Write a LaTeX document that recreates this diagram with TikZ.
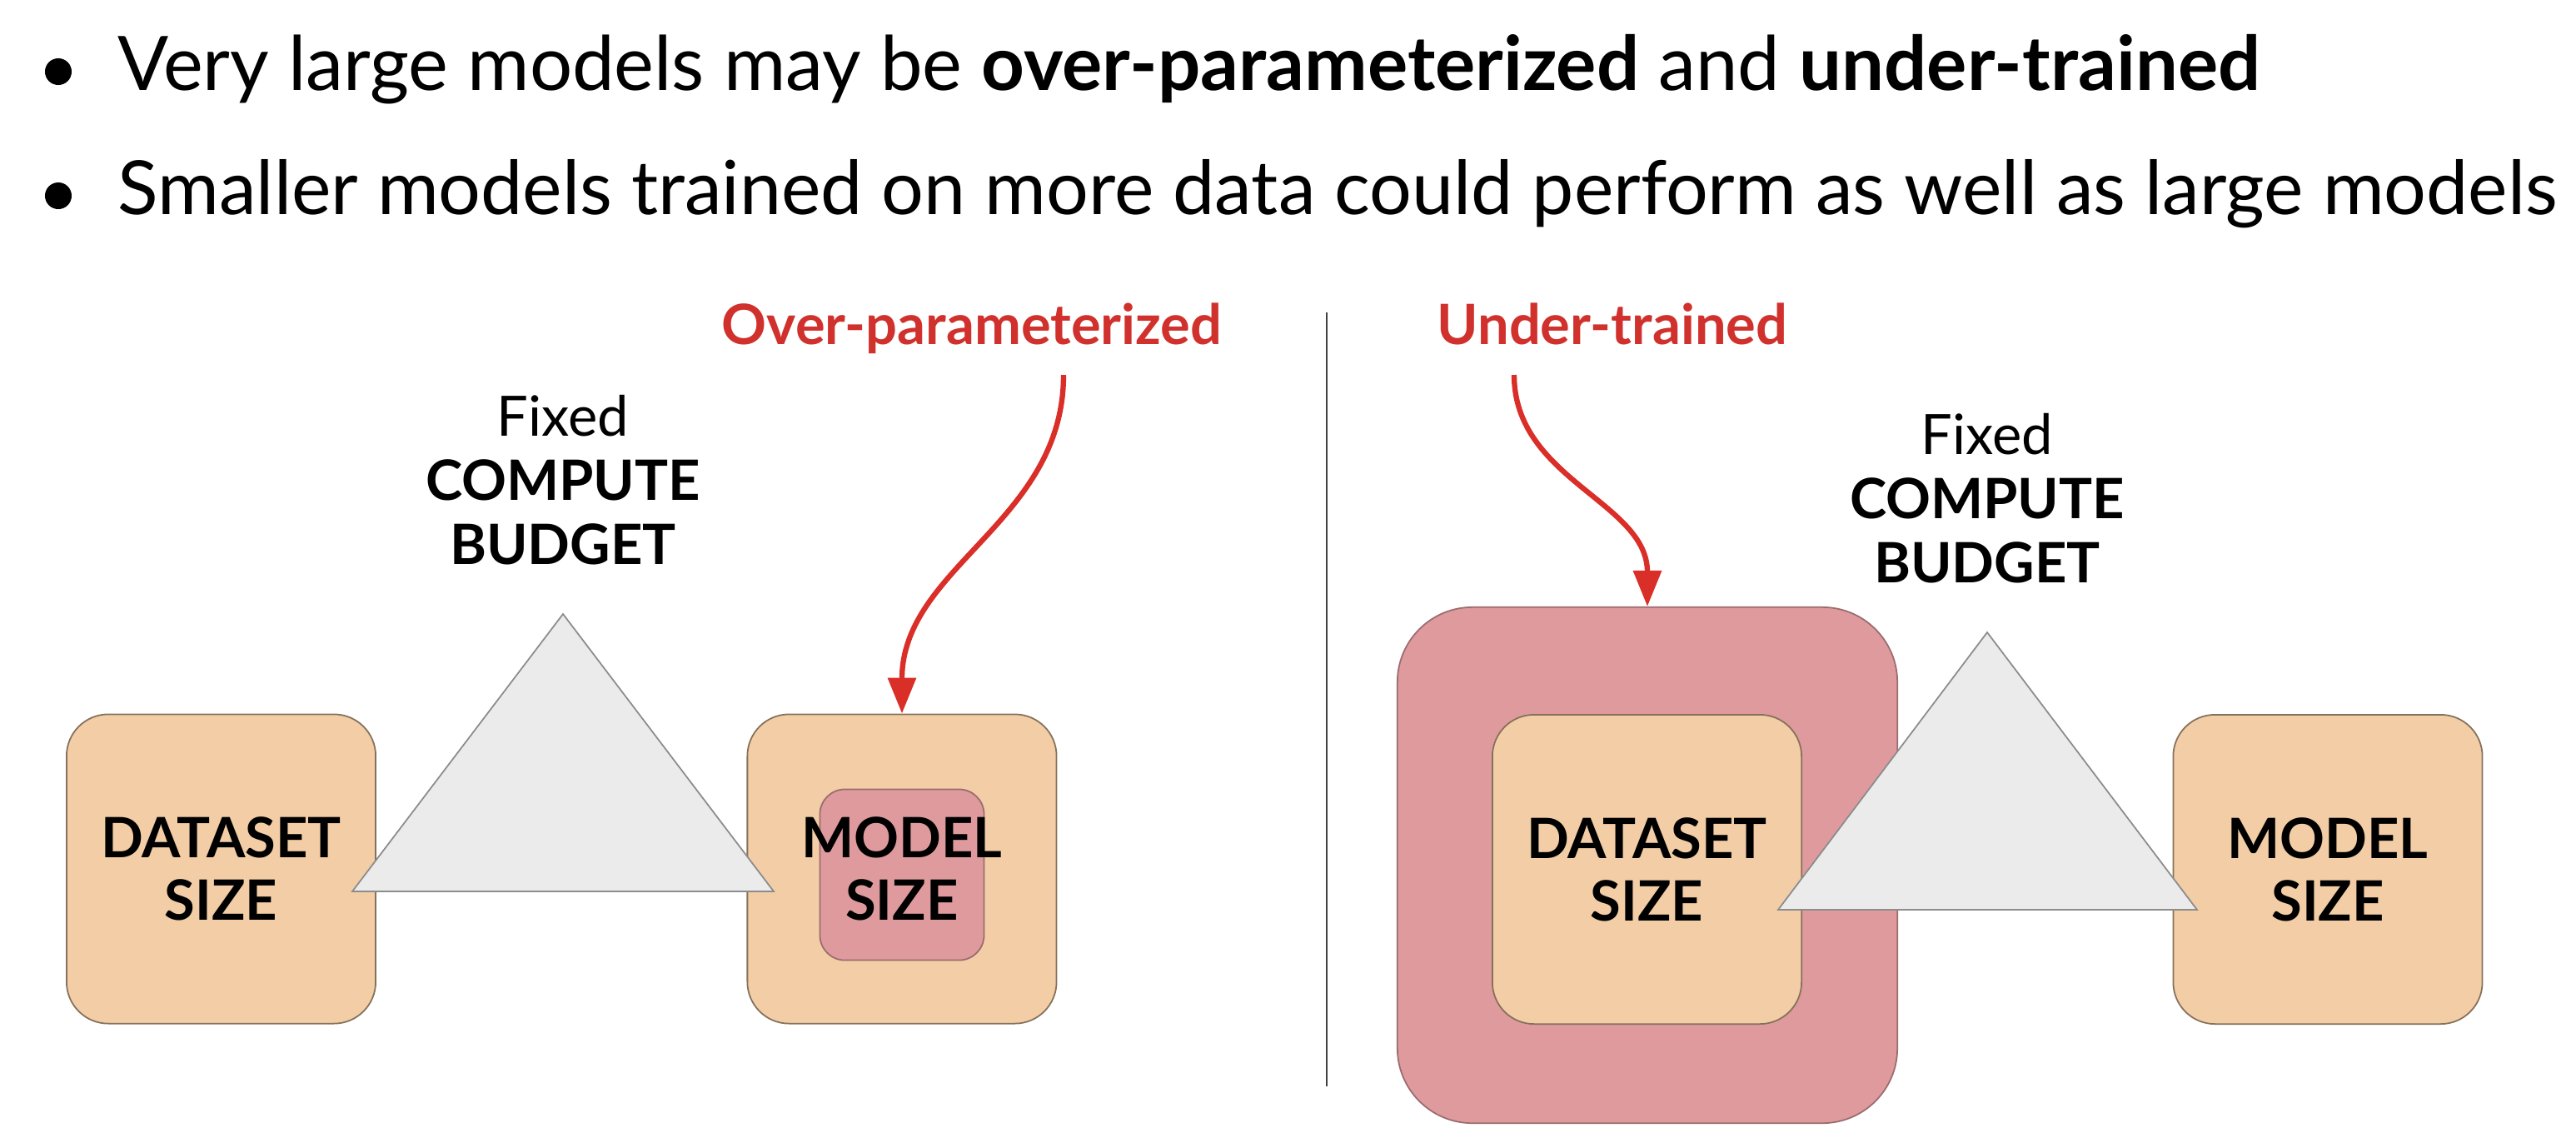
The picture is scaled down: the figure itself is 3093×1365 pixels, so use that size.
\documentclass[tikz,border=0pt]{standalone}
\usepackage{fontspec}
\setmainfont{Lato}
\usetikzlibrary{positioning}
\usetikzlibrary{arrows.meta}

\definecolor{peach}{HTML}{F2CDA5}
\definecolor{rose}{HTML}{DE9A9D}
\definecolor{lecred}{HTML}{D0312D}
\definecolor{arrred}{HTML}{DA2E28}
\definecolor{trigray}{HTML}{EBEBEB}

\begin{document}
\begin{tikzpicture}[x=0.01cm,y=-0.01cm,node distance=8.17cm,>={Triangle[length=0.43cm,width=0.33cm]},
	size node/.style={draw=peach!55!black,line width=0.5pt,fill=peach,rounded corners=0.5cm,
		minimum width=3.71cm,minimum height=3.71cm,align=center,font=\fontsize{19}{21.4}\selectfont\bfseries},
	size text/.style={align=center,inner sep=0pt,font=\fontsize{19}{21.4}\selectfont\bfseries},
	small red/.style={draw=rose!70!black,line width=0.5pt,fill=rose,rounded corners=0.3cm,
		minimum width=1.97cm,minimum height=2.05cm},
	big red/.style={draw=rose!70!black,line width=0.5pt,fill=rose,rounded corners=0.9cm,
		minimum width=6cm,minimum height=6.19cm},
	budget/.style={draw=black!45,line width=0.5pt,fill=trigray},
	budget text/.style={align=center,inner sep=0pt,font=\fontsize{19}{22}\selectfont},
	red label/.style={anchor=base,inner sep=0pt,text=lecred,font=\fontsize{19}{22}\selectfont\bfseries},
	red arrow/.style={->,draw=arrred,line width=1.8pt},
	bullet text/.style={anchor=base west,inner sep=0pt,font=\fontsize{25.5}{30}\selectfont},
	divider/.style={draw=black!75,line width=0.8pt}]
	
	\useasboundingbox (0,0) rectangle (3093,1365);
	
	% bullets
	\fill (70,86) circle[radius=0.16cm];
	\fill (70,235) circle[radius=0.16cm];
	\node[bullet text,font=\fontsize{25.7}{30}\selectfont] (l1) at (141,108) {Very large models may be \textbf{over-parameterized} and \textbf{under-trained}};
	\node[bullet text] (l2) at (141,257) {Smaller models trained on more data could perform as well as large models};
	
	% left: over-parameterized
	\node[size node] (ds1) at (265.5,1043) {DATASET\\SIZE};
	\node[size node] (ms1) [right of=ds1] {};
	\node[small red] (mr1) at ([yshift=-0.07cm]ms1.center) {};
	\node[size text] at (ms1) {MODEL\\SIZE};
	\coordinate (ap1) at (676,737);
	\draw[budget] (423,1070) -- (929,1070) -- (ap1) -- cycle;
	\node[budget text] (fc1) [above=0.58cm of ap1] {Fixed\\\textbf{COMPUTE}\\\textbf{BUDGET}};
	\node[red label] (op) at (1167,413) {Over-parameterized};
	\coordinate (opstart) at (1277,450);
	\draw[red arrow] (opstart) to[out=-90,in=90] (ms1);
	
	\coordinate (dtop) at (1593,375);
	\coordinate (dbot) at (1593,1304);
	\draw[divider] (dtop) -- (dbot);
	
	% right: under-trained
	\node[big red] (rb) at (1978,1038.5) {};
	\node[size node] (ds2) at (1977.5,1043.5) {DATASET\\SIZE};
	\node[size node] (ms2) [right of=ds2] {MODEL\\SIZE};
	\coordinate (ap2) at (2386,759);
	\draw[budget] (2135,1092) -- (2638,1092) -- (ap2) -- cycle;
	\node[budget text] (fc2) [above=0.58cm of ap2] {Fixed\\\textbf{COMPUTE}\\\textbf{BUDGET}};
	\node[red label] (ut) at (1936,413) {Under-trained};
	\coordinate (utstart) at (1818,450);
	\draw[red arrow] (utstart) to[out=-90,in=90] (rb);
\end{tikzpicture}
\end{document}
